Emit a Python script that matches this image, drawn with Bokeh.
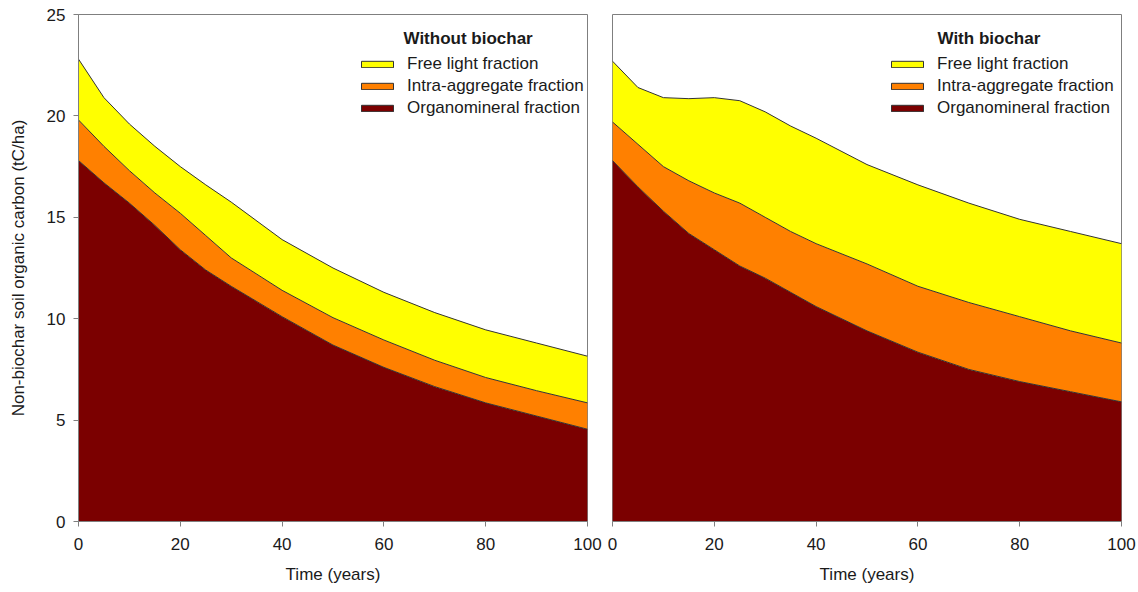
from bokeh.plotting import figure
from bokeh.layouts import row
from bokeh.models import ColumnDataSource, Range1d, Legend, LegendItem, Label
from bokeh.transform import stack
from bokeh.embed import file_html
from bokeh.resources import INLINE

# ---------------- data ----------------
series_names = ["Free light fraction", "Intra-aggregate fraction", "Organomineral fraction"]
panel_titles = ["Without biochar", "With biochar"]
x_ticks = [0, 20, 40, 60, 80, 100]
y_ticks = [0, 5, 10, 15, 20, 25]

# Without biochar (tC/ha per fraction)
years_without = [0, 5, 10, 15, 20, 25, 30, 40, 50, 60, 70, 80, 90, 100]
organo_without = [17.8, 16.7, 15.7, 14.6, 13.4, 12.4, 11.6, 10.1, 8.7, 7.6, 6.65, 5.85, 5.2, 4.55]
intra_without = [2.0, 1.8, 1.6, 1.6, 1.8, 1.7, 1.4, 1.3, 1.35, 1.35, 1.3, 1.25, 1.25, 1.3]
free_without = [3.0, 2.4, 2.3, 2.3, 2.3, 2.5, 2.75, 2.5, 2.45, 2.35, 2.35, 2.35, 2.35, 2.3]

# With biochar (tC/ha per fraction)
years_with = [0, 5, 10, 15, 20, 25, 30, 35, 40, 50, 60, 70, 80, 90, 100]
organo_with = [17.8, 16.5, 15.3, 14.2, 13.4, 12.6, 12.0, 11.3, 10.6, 9.4, 8.35, 7.5, 6.9, 6.4, 5.9]
intra_with = [1.9, 2.1, 2.2, 2.6, 2.8, 3.1, 3.0, 3.0, 3.1, 3.3, 3.25, 3.3, 3.2, 3.0, 2.9]
free_with = [3.0, 2.8, 3.4, 4.05, 4.7, 5.05, 5.2, 5.2, 5.2, 4.9, 5.0, 4.9, 4.8, 4.9, 4.9]

# ---------------- style ----------------
FONT = "Liberation Sans"
TXT = "#1a1a1a"
AXC = "#7f7f7f"
YELLOW = "#FFFF00"
ORANGE = "#FF8000"
DARKRED = "#7B0000"
EDGE = "#333333"
FS = "17px"
NAN = float("nan")


def make_panel(years, organo, intra, free, title, width, bl, br, show_y, leg_x):
    src = ColumnDataSource(dict(year=years, organo=organo, intra=intra, free=free))
    p = figure(width=width, height=592,
               x_range=Range1d(0, 100), y_range=Range1d(0, 25),
               output_backend="svg", toolbar_location=None,
               min_border_left=bl, min_border_right=br,
               min_border_top=14, min_border_bottom=71,
               y_axis_location="left" if show_y else None)
    p.background_fill_color = "white"
    p.border_fill_color = "white"
    p.outline_line_color = AXC
    p.outline_line_width = 1
    p.xgrid.visible = False
    p.ygrid.visible = False

    p.varea_stack(stackers=["organo", "intra", "free"], x="year",
                  color=[DARKRED, ORANGE, YELLOW], source=src)
    p.line(x="year", y=stack("organo"), source=src, line_color=EDGE, line_width=1)
    p.line(x="year", y=stack("organo", "intra"), source=src, line_color=EDGE, line_width=1)
    p.line(x="year", y=stack("organo", "intra", "free"), source=src, line_color=EDGE, line_width=1)

    # axes
    p.xaxis.ticker = x_ticks
    p.xaxis.axis_label = "Time (years)"
    for ax in p.xaxis + (p.yaxis if show_y else []):
        ax.axis_line_color = AXC
        ax.major_tick_line_color = AXC
        ax.major_tick_out = 5
        ax.major_tick_in = 0
        ax.minor_tick_line_color = None
        ax.major_label_text_font = FONT
        ax.major_label_text_font_size = FS
        ax.major_label_text_color = TXT
        ax.axis_label_text_font = FONT
        ax.axis_label_text_font_size = FS
        ax.axis_label_text_font_style = "normal"
        ax.axis_label_text_color = TXT
    p.xaxis.major_label_standoff = 11
    p.xaxis.axis_label_standoff = 12
    if show_y:
        p.yaxis.ticker = y_ticks
        p.yaxis.axis_label = "Non-biochar soil organic carbon (tC/ha)"
        p.yaxis.major_label_standoff = 8
        p.yaxis.axis_label_standoff = 16

    # legend proxies (NaN data: nothing drawn in the plot area)
    proxy = dict(left=[NAN], right=[NAN], top=[NAN], bottom=[NAN])
    r_free = p.quad(**proxy, fill_color=YELLOW, line_color=EDGE)
    r_intra = p.quad(**proxy, fill_color=ORANGE, line_color=EDGE)
    r_org = p.quad(**proxy, fill_color=DARKRED, line_color=EDGE)
    legend = Legend(items=[LegendItem(label=series_names[0], renderers=[r_free]),
                           LegendItem(label=series_names[1], renderers=[r_intra]),
                           LegendItem(label=series_names[2], renderers=[r_org])],
                    location=(leg_x, 402),
                    glyph_width=40, glyph_height=8, label_standoff=10,
                    label_height=22, spacing=0, padding=0, margin=0,
                    label_text_font=FONT, label_text_font_size=FS,
                    label_text_color=TXT,
                    border_line_color=None, background_fill_alpha=0)
    p.add_layout(legend)
    p.add_layout(Label(x=325, y=483, x_units="screen", y_units="screen",
                       text=title, text_font=FONT, text_font_size=FS,
                       text_font_style="bold", text_color=TXT,
                       text_baseline="middle"))
    return p


p1 = make_panel(years_without, organo_without, intra_without, free_without,
                panel_titles[0], 604, 78, 17, True, 279)
p2 = make_panel(years_with, organo_with, intra_with, free_with,
                panel_titles[1], 534, 8, 17, False, 275)

layout = row(p1, p2, spacing=0)
open("out.html", "w").write(file_html(layout, INLINE))
